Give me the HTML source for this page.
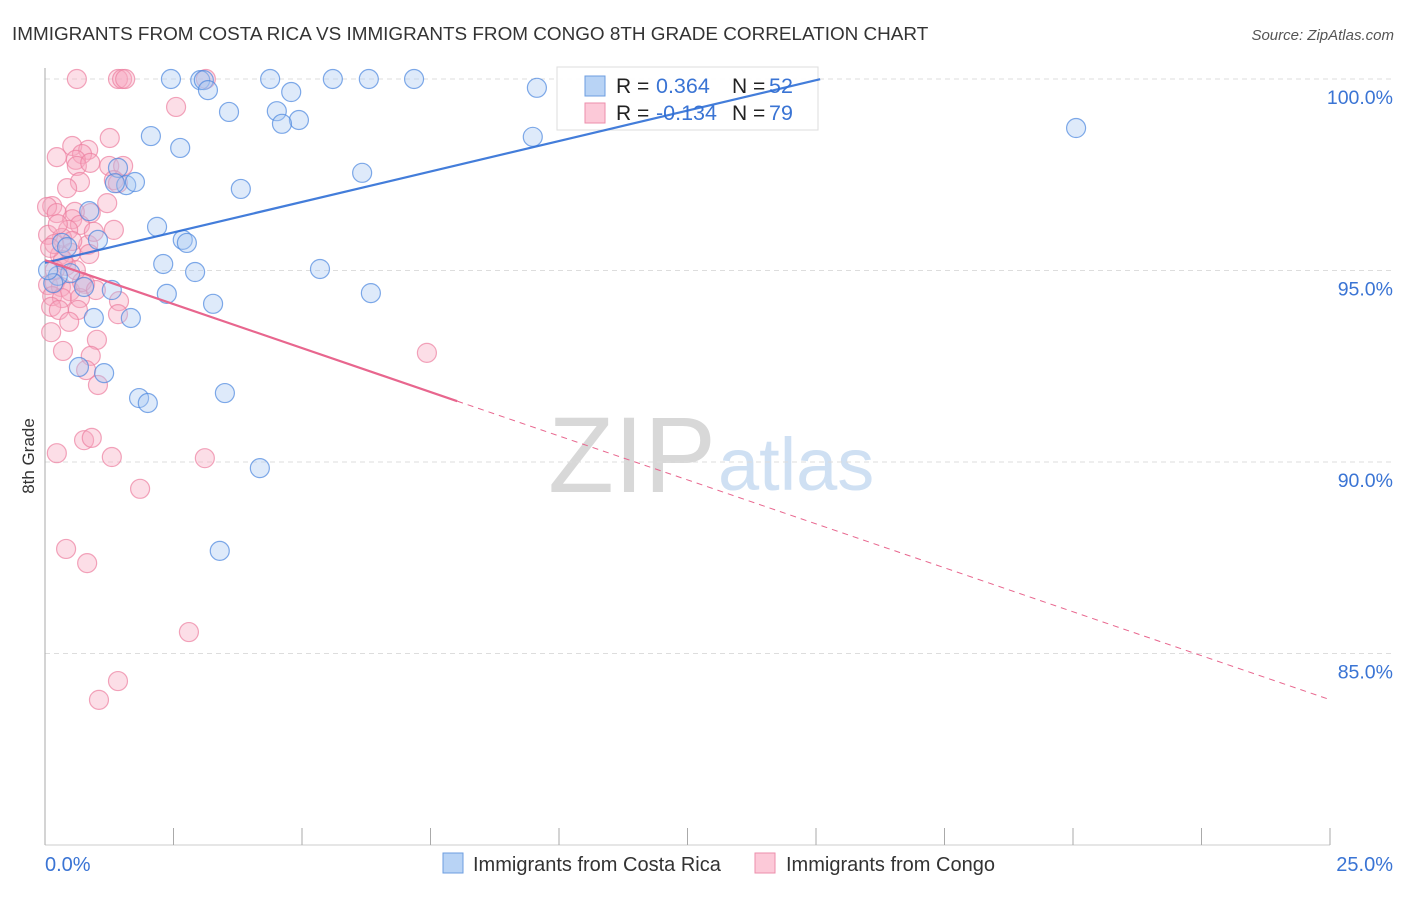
<!DOCTYPE html>
<html><head><meta charset="utf-8"><style>
body{margin:0;background:#fff;font-family:"Liberation Sans",sans-serif}
svg text{font-family:"Liberation Sans",sans-serif}
</style></head><body>
<svg id="c" width="1406" height="892" xmlns="http://www.w3.org/2000/svg">
<text x="12" y="40" font-size="18.9" fill="#333">IMMIGRANTS FROM COSTA RICA VS IMMIGRANTS FROM CONGO 8TH GRADE CORRELATION CHART</text>
<text x="1394" y="40" font-size="15" fill="#555" text-anchor="end" font-style="italic">Source: ZipAtlas.com</text>
<text x="34" y="456" font-size="17" fill="#333" text-anchor="middle" transform="rotate(-90 34 456)">8th Grade</text>
<text x="716" y="492" font-size="108" fill="#d8d8d8" text-anchor="end" font-family="Liberation Serif">ZIP</text>
<text x="718" y="490" font-size="74" fill="#cfe0f3">atlas</text>
<g id="grid"></g><g id="marks"></g>
<g>
<rect x="557" y="67" width="261" height="63" fill="#fff" fill-opacity="0.9" stroke="#ddd"/>
<rect x="585" y="76" width="20" height="20" fill="#b8d3f5" stroke="#6c9ee0"/>
<rect x="585" y="103" width="20" height="20" fill="#fcc9d8" stroke="#ec8eab"/>
<text x="616" y="93" font-size="21" fill="#222">R = </text><text x="656" y="93" font-size="21.5" fill="#3a74d4">0.364</text>
<text x="732" y="93" font-size="21" fill="#222">N = </text><text x="769" y="93" font-size="21.5" fill="#3a74d4">52</text>
<text x="616" y="120" font-size="21" fill="#222">R = </text><text x="656" y="120" font-size="21.5" fill="#3a74d4">-0.134</text>
<text x="732" y="120" font-size="21" fill="#222">N = </text><text x="769" y="120" font-size="21.5" fill="#3a74d4">79</text>
</g>
<g id="trend"></g>
<rect x="443" y="853" width="20" height="20" fill="#b8d3f5" stroke="#6c9ee0"/>
<text x="473" y="871" font-size="20" fill="#333">Immigrants from Costa Rica</text>
<rect x="755" y="853" width="20" height="20" fill="#fcc9d8" stroke="#ec8eab"/>
<text x="786" y="871" font-size="20" fill="#333">Immigrants from Congo</text>
<text x="45" y="871" font-size="20" fill="#3a74d4">0.0%</text>
<text x="1393" y="871" font-size="20" fill="#3a74d4" text-anchor="end">25.0%</text>
</svg>
<script>
const yTicks=[100,95,90,85];
const yTickLabels=["100.0%","95.0%","90.0%","85.0%"];
const xTicks=[0,2.5,5,7.5,10,12.5,15,17.5,20,22.5,25];
const blueX=[2.45,3.02,3.09,3.17,4.38,5.60,6.30,7.18,9.57,4.79,3.58,4.51,4.94,4.61,2.06,2.63,9.49,20.06,3.81,6.17,1.58,1.75,1.42,1.36,0.86,2.18,1.03,2.68,2.76,0.33,0.43,2.30,2.92,5.35,0.49,0.25,0.76,1.30,2.37,3.27,6.34,0.95,1.67,0.66,1.15,1.83,2.00,3.50,4.18,3.40,0.16,0.06];
const blueY=[100,99.97,99.97,99.71,100,100,100,100,99.77,99.66,99.14,99.16,98.93,98.83,98.51,98.20,98.49,98.72,97.13,97.55,97.23,97.31,97.68,97.28,96.55,96.14,95.80,95.80,95.72,95.72,95.61,95.17,94.96,95.04,94.93,94.86,94.57,94.49,94.39,94.13,94.41,93.76,93.76,92.48,92.32,91.67,91.54,91.80,89.84,87.68,94.67,95.01];
const pinkX=[0.62,1.42,1.50,1.56,3.13,2.55,1.26,0.53,0.23,0.84,0.72,0.60,0.62,1.25,1.52,0.88,0.68,0.43,1.34,1.42,1.21,0.14,0.04,0.23,0.89,0.58,0.53,0.68,1.34,0.45,0.33,0.06,0.84,0.29,0.18,0.51,0.86,0.41,0.19,0.06,0.31,0.49,0.78,0.14,0.33,0.68,1.44,1.42,0.12,0.27,0.64,0.47,0.12,1.01,0.35,0.89,0.80,1.03,0.23,0.76,0.91,1.30,3.11,1.85,7.43,0.41,0.82,2.80,1.42,1.05,0.72,0.99,0.60,0.19,0.35,0.10,0.53,0.25,0.95];
const pinkY=[100,100,100,100,100,99.27,98.46,98.25,97.96,98.15,98.04,97.89,97.73,97.73,97.73,97.81,97.31,97.15,97.36,97.28,96.76,96.68,96.66,96.50,96.50,96.53,96.34,96.19,96.06,96.06,95.85,95.93,95.67,95.40,95.69,95.46,95.43,95.12,94.67,94.62,94.57,94.46,94.65,94.33,94.28,94.28,94.20,93.86,94.05,93.97,93.97,93.66,93.39,93.19,92.90,92.77,92.40,92.01,90.23,90.57,90.63,90.13,90.10,89.30,92.85,87.73,87.36,85.56,84.28,83.79,94.70,94.49,95.01,95.01,95.27,95.59,95.77,96.21,96.01];
const blueTrend=[95.20,0.318];
const pinkTrend=[95.27,-0.459];
const NS="http://www.w3.org/2000/svg";
const X=v=>45+v*(1285/25), Y=v=>79+(100-v)*38.3;
function mk(t,a,p){const e=document.createElementNS(NS,t);for(const k in a)e.setAttribute(k,a[k]);p.appendChild(e);return e;}
const g=document.getElementById('grid');
yTicks.forEach((t,i)=>{
 const l=mk('line',{x1:45,x2:1393,y1:Y(t),y2:Y(t),stroke:'#ddd','stroke-dasharray':'5,4'},g);
 
 
 const tx=mk('text',{x:1393,y:Y(t)+25,'font-size':19.5,fill:'#3a74d4','text-anchor':'end'},g);
 tx.textContent=yTickLabels[i];
 
 
});
const ax=mk('line',{x1:45,x2:45,y1:68,y2:845,stroke:'#aaa'},g);


const bx=mk('line',{x1:45,x2:1330,y1:845,y2:845,stroke:'#ccc'},g);


xTicks.forEach(t=>{
 const l=mk('line',{x1:X(t),x2:X(t),y1:828,y2:845,stroke:'#aaa'},g);
 
 
});
const m=document.getElementById('marks');
function pts(xs,ys,fill,stroke,name){xs.forEach((x,i)=>{
 const c=mk('circle',{cx:X(x),cy:Y(ys[i]),r:9.5,fill:fill,'fill-opacity':0.38,stroke:stroke,'stroke-opacity':0.7,'stroke-width':1.2},m);
 
 
});}
pts(pinkX,pinkY,'#f7a9c0','#ec7fa0','congo-point');
pts(blueX,blueY,'#a9c9f2','#4a86de','costa-rica-point');
const tr=document.getElementById('trend');
const f=(t,x)=>t[0]+t[1]*x;
let l=mk('line',{x1:X(0),y1:Y(f(blueTrend,0)),x2:X(15.08),y2:Y(f(blueTrend,15.08)),stroke:'#2f6fd6','stroke-width':2.2,'stroke-opacity':0.9},tr);


l=mk('line',{x1:X(0),y1:Y(f(pinkTrend,0)),x2:X(8.02),y2:Y(f(pinkTrend,8.02)),stroke:'#e8668e','stroke-width':2.2},tr);


l=mk('line',{x1:X(8.02),y1:Y(f(pinkTrend,8.02)),x2:X(24.94),y2:Y(f(pinkTrend,24.94)),stroke:'#e8668e','stroke-width':1,'stroke-dasharray':'6,5'},tr);


</script>
</body></html>
